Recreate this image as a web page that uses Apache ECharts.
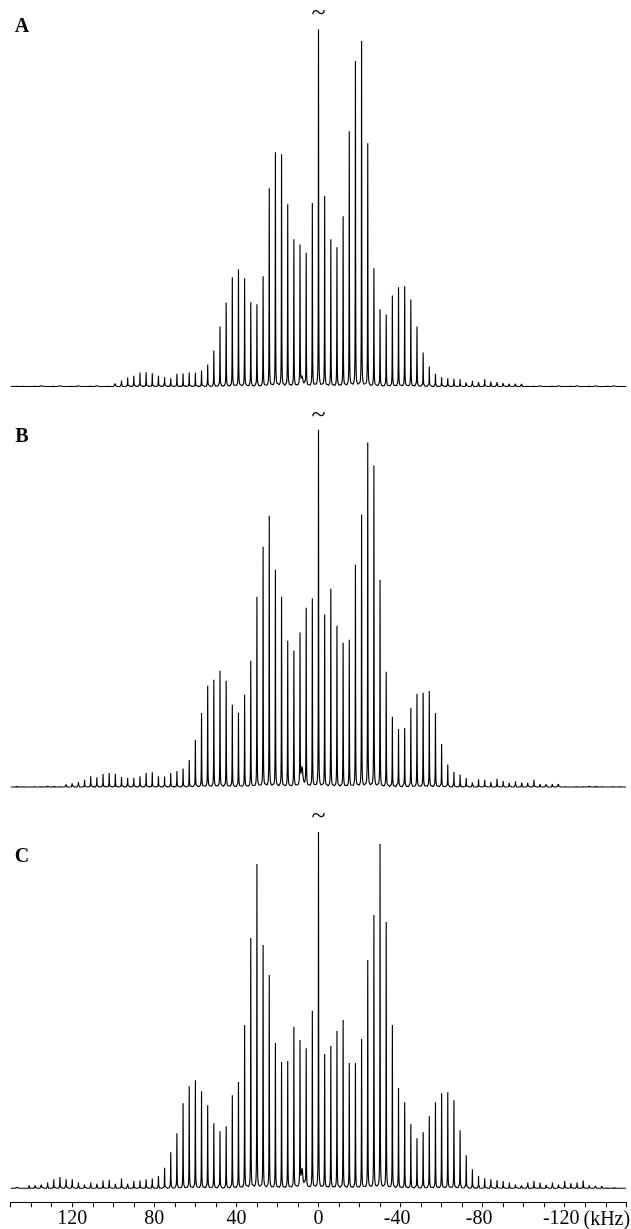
<!DOCTYPE html>
<html>
<head>
<meta charset="utf-8">
<script src="https://cdn.jsdelivr.net/npm/echarts@6/dist/echarts.min.js"></script>
<style>
  html, body { margin: 0; padding: 0; background: #fff; }
  #chart { width: 631px; height: 1229px; }
</style>
</head>
<body>
<div id="chart"></div>
<script>
// Sideband positions (kHz), from +147 down to -147, spacing 3 kHz
const sidebandKHz = [147,144,141,138,135,132,129,126,123,120,117,114,111,108,105,102,99,96,93,90,87,84,81,78,75,72,69,66,63,60,57,54,51,48,45,42,39,36,33,30,27,24,21,18,15,12,9,6,3,0,-3,-6,-9,-12,-15,-18,-21,-24,-27,-30,-33,-36,-39,-42,-45,-48,-51,-54,-57,-60,-63,-66,-69,-72,-75,-78,-81,-84,-87,-90,-93,-96,-99,-102,-105,-108,-111,-114,-117,-120,-123,-126,-129,-132,-135,-138,-141,-144,-147];

// Peak heights (arbitrary units; centre band truncated at 357)
const heightsA = [1,1,1,1,1,1,1,1,1,1,1,1,1,1,1,2.3,4,6,9,10.7,14,14.3,13.3,10.7,9.3,8.3,12.7,13,14,13.7,16,22,36,60,84,109,117,108,84,82,110,198,234,232,182,147,140,133,183,357,190,147,139,170,255,325,345,243,118,77,72,91,99,100,87,60,34,20,12.7,9.3,8.3,7.7,7.3,5.3,5.7,6.3,7.3,7,6.3,4.7,3.7,2.7,3.3,2,1,1,1,1,1,1,1,1,1,1,1,1,1,1,1];
const heightsB = [1.5,1.5,1.5,1.5,1.5,1.5,1.5,2,3.3,5,6.7,7.3,10.7,9.7,13,14,13.3,10,9,9.3,10.7,14,14.7,10.7,10.5,14,16,18.5,27,47,74,101,107,116,106,82,74,92,126,190,240,271,217,190,146,136,151,178,188,357,172,198,161,144,147,222,272,344,321,207,115,70,58,59,79,93,94,96,74,43,22.5,15,12.5,9,6.5,7.7,7.3,6.7,8.3,6,5.7,5.7,6.3,5.7,7.3,4,3.3,4,4,2.3,1.5,1.5,1.5,1.5,1.5,1.5,1.5,1.5,1.5];
const heightsC = [2.3,2.3,3,3.7,5,5.7,9,11.3,9,9,5.7,5,5.7,6.3,7.7,8.3,6.3,9.7,6.3,7.3,7.7,9,9.7,12.3,20.5,36,55,85,102,108,97,83,65,57,62,93,106,163,250,324,243,213,145,126,127,161,145,139,177,356,134,142,157,168,125,125,149,228,273,344,266,163,100,86,64,50,56,72,86,95,96,88,58,33,19,12.3,10,9,8,7.3,5.7,5,4,5.7,7.3,5.7,4.7,5.7,5,7.3,7,5.7,7.7,4,3,3,2.3,1.7,1.7];

// Small impurity signal near 8 kHz, per panel
const impurityKHz = [8];
const impurityHeights = [10, 20, 19];

// Axis tick labels (kHz)
const tickLabels = [120, 80, 40, 0, -40, -80, -120];
const panelLabels = ['A', 'B', 'C'];

const HWHM = 0.08;      // sideband half-width (kHz)
const HWHM_IMP = 0.45;  // impurity half-width (kHz)

function spectrum(heights, impH) {
  const pts = [];
  for (let i = 0; i <= 6000; i++) {
    const x = (3000 - i) / 20;
    let y = 0;
    for (let j = 0; j < sidebandKHz.length; j++) {
      const d = x - sidebandKHz[j];
      if (Math.abs(d) > 4.5) continue;
      y += heights[j] * HWHM * HWHM / (d * d + HWHM * HWHM);
    }
    for (let j = 0; j < impurityKHz.length; j++) {
      const d = x - impurityKHz[j];
      y += impH * HWHM_IMP * HWHM_IMP / (d * d + HWHM_IMP * HWHM_IMP);
    }
    pts.push([x, y]);
  }
  return pts;
}

const panels = [heightsA, heightsB, heightsC];
const gridTops = [29.5, 430, 831.3];
const serif = 'Liberation Serif';

const grids = gridTops.map(t => ({ left: 10.7, right: 4.7, top: t, height: 360 }));
const xAxes = gridTops.map((t, i) => ({
  type: 'value', gridIndex: i, min: -150, max: 150, interval: 10, inverse: true,
  show: i === 2,
  offset: 11,
  splitLine: { show: false },
  axisLine: { show: true, onZero: false, lineStyle: { color: '#000', width: 1 } },
  axisTick: { show: true, length: 5, lineStyle: { color: '#000', width: 1 } },
  axisLabel: {
    show: true, margin: 6, color: '#000', fontFamily: serif, fontSize: 20,
    formatter: v => tickLabels.indexOf(v) < 0 ? '' : (v < 0 ? '{neg|' + v + '}' : String(v)),
    rich: { neg: { fontFamily: serif, fontSize: 20, color: '#000', padding: [0, 7, 0, 0] } }
  }
}));
const yAxes = gridTops.map((t, i) => ({
  type: 'value', gridIndex: i, min: -3, max: 357, show: false, splitLine: { show: false }
}));
const series = panels.map((h, i) => ({
  type: 'line', xAxisIndex: i, yAxisIndex: i,
  data: spectrum(h, impurityHeights[i]),
  showSymbol: false, symbol: 'none', sampling: null, clip: false,
  lineStyle: { color: '#000', width: 1.15 },
  animation: false
}));

const labelYs = [27, 437, 857];
const tildeYs = [13.5, 415, 816];
const graphic = [];
panelLabels.forEach((p, i) => {
  graphic.push({ type: 'text', x: 22, y: labelYs[i],
    style: { text: p, fontFamily: serif, fontWeight: 'bold', fontSize: 20, fill: '#000',
             textAlign: 'center', textVerticalAlign: 'middle' } });
  graphic.push({ type: 'text', x: 318.5, y: tildeYs[i],
    style: { text: '~', fontFamily: serif, fontSize: 26, fill: '#000',
             textAlign: 'center', textVerticalAlign: 'middle' } });
});
graphic.push({ type: 'text', x: 583.5, y: 1219.5,
  style: { text: '(kHz)', fontFamily: serif, fontSize: 20, fill: '#000',
           textAlign: 'left', textVerticalAlign: 'middle' } });

const chart = echarts.init(document.getElementById('chart'), null, { renderer: 'canvas' });
chart.setOption({
  backgroundColor: '#fff',
  animation: false,
  grid: grids,
  xAxis: xAxes,
  yAxis: yAxes,
  series: series,
  graphic: graphic
});
</script>
</body>
</html>
